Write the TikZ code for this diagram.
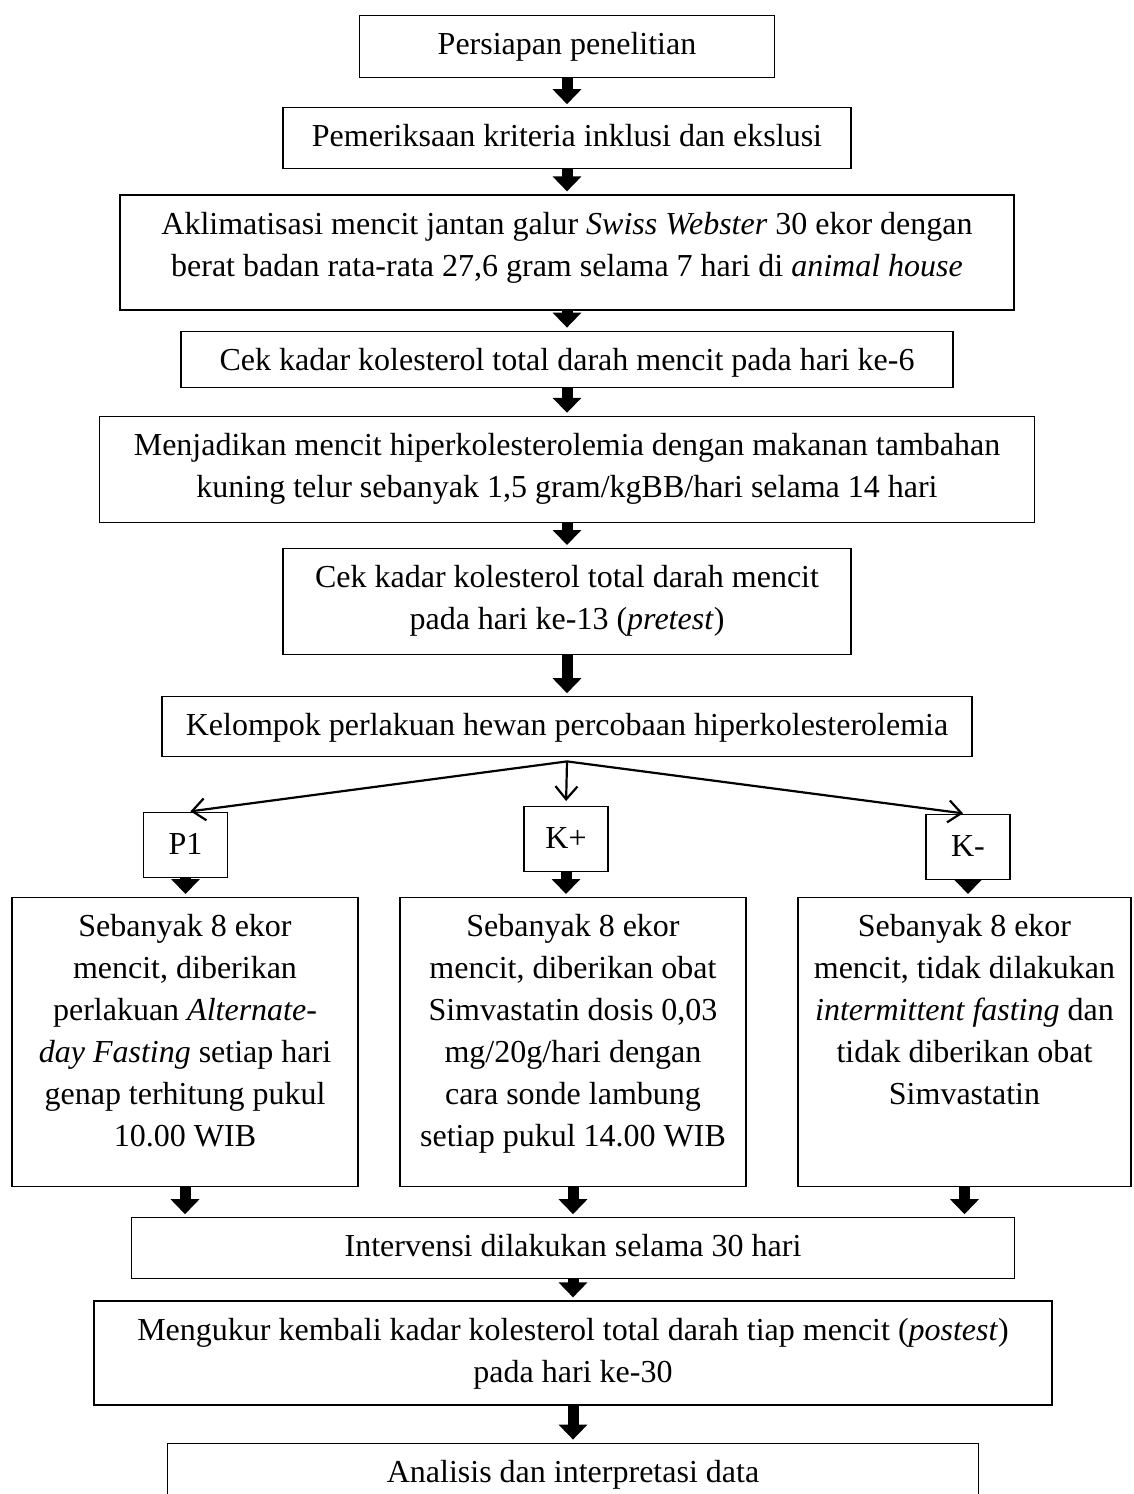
\documentclass[tikz,border=0pt]{standalone}
\usepackage{fontspec}
\setmainfont{Liberation Serif}
\usetikzlibrary{positioning,arrows.meta}

\tikzset{
  stepbox/.style={draw, line width=1.2pt, inner xsep=0pt, inner ysep=0pt, text height=39pt, align=center},
  groupbox/.style={stepbox, minimum width=84pt, text height=42pt, text depth=23pt},
  detailbox/.style={stepbox, text height=249pt, text depth=40pt},
  blockarrow/.style={line width=11pt, -{Triangle[length=15pt,width=28pt]}, shorten >=3pt},
  branch/.style={line width=2.2pt, -{Straight Barb[length=13pt,width=22pt]}, shorten >=5pt}
}

\begin{document}
\begin{tikzpicture}[x=1pt, y=-1pt, font=\fontsize{32}{42}\selectfont]
\useasboundingbox (0,0) rectangle (1133,1494);
\clip (0,0) rectangle (1133,1494);

\node[stepbox, minimum width=415pt, text depth=23pt, anchor=north] (persiapan) at (567,15) {Persiapan penelitian};
\node[stepbox, minimum width=568pt, text depth=22pt, below=29pt of persiapan] (kriteria) {Pemeriksaan kriteria inklusi dan ekslusi};
\node[stepbox, minimum width=894pt, text height=81pt, text depth=34pt, below=25pt of kriteria] (aklimatisasi) {Aklimatisasi mencit jantan galur \textit{Swiss Webster} 30 ekor dengan\\berat badan rata-rata 27,6 gram selama 7 hari di \textit{animal house}};
\node[stepbox, minimum width=772pt, text depth=17pt, below=20pt of aklimatisasi] (cekawal) {Cek kadar kolesterol total darah mencit pada hari ke-6};
\node[stepbox, minimum width=935pt, text height=81pt, text depth=25pt, below=28pt of cekawal] (induksi) {Menjadikan mencit hiperkolesterolemia dengan makanan tambahan\\kuning telur sebanyak 1,5 gram/kgBB/hari selama 14 hari};
\node[stepbox, minimum width=568pt, text height=81pt, text depth=25pt, below=25pt of induksi] (pretest) {Cek kadar kolesterol total darah mencit\\pada hari ke-13 (\textit{pretest})};
\node[stepbox, minimum width=810pt, text depth=21pt, below=41pt of pretest] (kelompok) {Kelompok perlakuan hewan percobaan hiperkolesterolemia};

\node[groupbox, anchor=north] (p1) at (185.5,812) {P1};
\node[groupbox, anchor=north] (kplus) at (566,806) {K+};
\node[groupbox, anchor=north] (kminus) at (968,814) {K-};

\node[detailbox, minimum width=346pt, anchor=north] (detailp1) at (185,897) {Sebanyak 8 ekor\\mencit, diberikan\\perlakuan \textit{Alternate-}\\\textit{day Fasting} setiap hari\\genap terhitung pukul\\10.00 WIB};
\node[detailbox, minimum width=346pt, anchor=north] (detailkplus) at (573,897) {Sebanyak 8 ekor\\mencit, diberikan obat\\Simvastatin dosis 0,03\\mg/20g/hari dengan\\cara sonde lambung\\setiap pukul 14.00 WIB};
\node[detailbox, minimum width=333pt, text height=207pt, text depth=82pt, anchor=north] (detailkminus) at (964.5,897) {Sebanyak 8 ekor\\mencit, tidak dilakukan\\\textit{intermittent fasting} dan\\tidak diberikan obat\\Simvastatin};

\node[stepbox, minimum width=883pt, text depth=22pt, below=30pt of detailkplus] (intervensi) {Intervensi dilakukan selama 30 hari};
\node[stepbox, minimum width=958pt, text height=81pt, text depth=23pt, below=21pt of intervensi] (postest) {Mengukur kembali kadar kolesterol total darah tiap mencit (\textit{postest})\\pada hari ke-30};
\node[stepbox, minimum width=811pt, text depth=61pt, below=37pt of postest] (analisis) {Analisis dan interpretasi data};

\foreach \a/\b in {persiapan/kriteria, kriteria/aklimatisasi, aklimatisasi/cekawal, cekawal/induksi, induksi/pretest, pretest/kelompok, intervensi/postest, postest/analisis}
  \draw[blockarrow] (\a.south) -- (\b.north);

\coordinate (fork) at ([yshift=-4pt]kelompok.south);
\foreach \g in {p1, kplus, kminus} {
  \draw[branch] (fork) -- (\g.north);
  \draw[blockarrow] (\g.south) -- (\g.south |- detail\g.north);
  \draw[blockarrow] (detail\g.south) -- (detail\g.south |- intervensi.north);
}
\end{tikzpicture}
\end{document}
